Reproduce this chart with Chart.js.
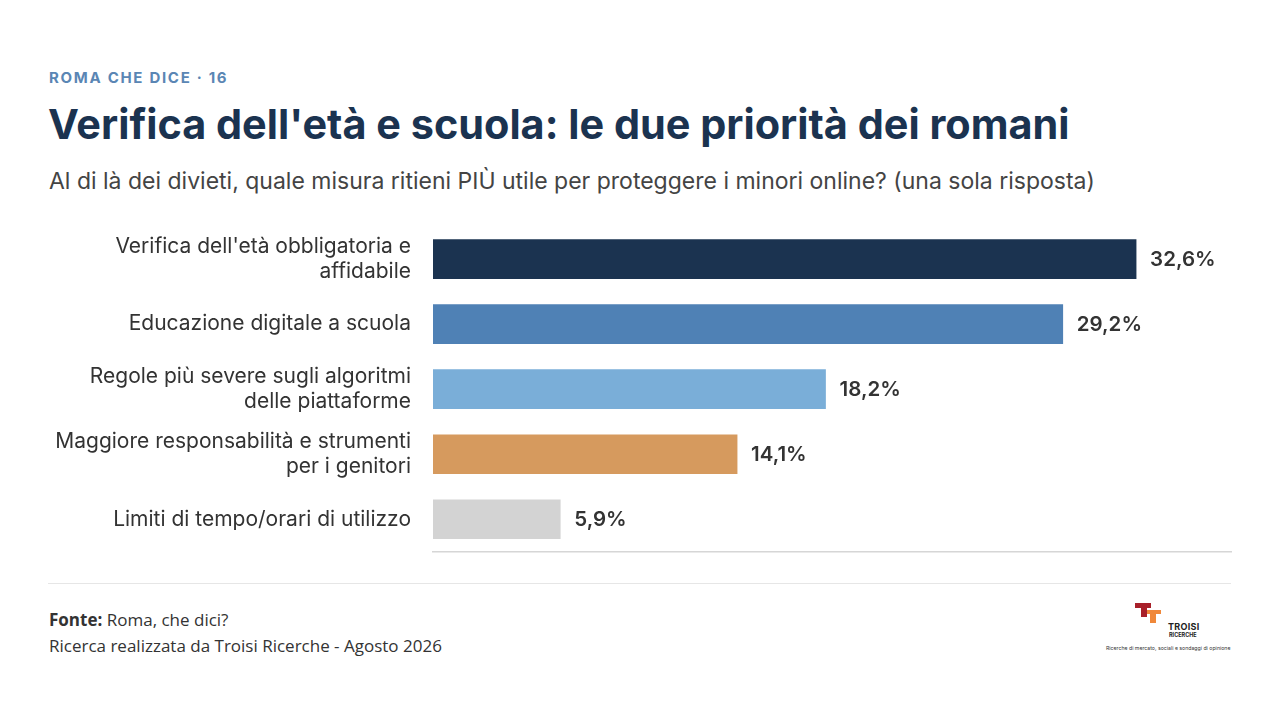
<!DOCTYPE html>
<html lang="it">
<head>
<meta charset="utf-8">
<title>Verifica dell'età e scuola</title>
<script src="https://cdn.jsdelivr.net/npm/chart.js@4.4.1/dist/chart.umd.min.js"></script>
<style>
    html, body { margin: 0; padding: 0; background: #fff; }
    body { width: 1280px; height: 720px; position: relative; overflow: hidden; font-family: Inter, sans-serif; }
    .kicker { position: absolute; left: 49px; top: 68px; font-size: 15px; font-weight: 700; letter-spacing: 1.7px; color: #5a86b4; }
    .title { position: absolute; left: 48px; top: 99px; font-size: 41.4px; font-weight: 700; color: #1b3350; }
    .subtitle { position: absolute; left: 49px; top: 167px; font-size: 23px; color: #444; }
    .chart-wrap { position: absolute; left: 0; top: 192px; width: 1280px; height: 407px; }
    .divider { position: absolute; left: 48px; top: 583px; width: 1183px; height: 1px; background: #e6e6e6; }
    .source { position: absolute; left: 49px; top: 607px; font-family: "Open Sans", sans-serif; font-size: 17px; color: #333; line-height: 26px; }
    .source b { font-weight: 700; }
    .logo { position: absolute; left: 1100px; top: 600px; width: 140px; height: 56px; }
    .logo div { position: absolute; }
    .red { background: #a8202a; }
    .orange { background: #f0883a; }
    .brand { left: 68px; top: 21px; font-size: 9px; font-weight: 700; color: #222; letter-spacing: 0.3px; }
    .brand2 { left: 69px; top: 32px; font-size: 5.5px; font-weight: 700; color: #222; }
    .tag { left: 6px; top: 45px; font-size: 5.2px; color: #333; white-space: nowrap; }
</style>
</head>
<body>
<div class="kicker">ROMA CHE DICE · 16</div>
<div class="title">Verifica dell'età e scuola: le due priorità dei romani</div>
<div class="subtitle">Al di là dei divieti, quale misura ritieni PIÙ utile per proteggere i minori online? (una sola risposta)</div>
<div class="chart-wrap"><canvas id="priorityChart"></canvas></div>
<div class="divider"></div>
<div class="source"><b>Fonte:</b> Roma, che dici?<br>Ricerca realizzata da Troisi Ricerche - Agosto 2026</div>
<div class="logo">
    <div class="red" style="left:35px;top:3px;width:16px;height:5px;"></div>
    <div class="red" style="left:41px;top:3px;width:6px;height:14px;"></div>
    <div class="orange" style="left:47px;top:10px;width:14px;height:4px;"></div>
    <div class="orange" style="left:50px;top:10px;width:6px;height:13px;"></div>
    <div class="brand">TROISI</div>
    <div class="brand2">RICERCHE</div>
    <div class="tag">Ricerche di mercato, sociali e sondaggi di opinione</div>
</div>
<script>
var categories = [
    ["Verifica dell'età obbligatoria e", "affidabile"],
    "Educazione digitale a scuola",
    ["Regole più severe sugli algoritmi", "delle piattaforme"],
    ["Maggiore responsabilità e strumenti", "per i genitori"],
    "Limiti di tempo/orari di utilizzo"
];
var shares = [32.6, 29.2, 18.2, 14.1, 5.9];
var barColors = ['#1b3350', '#4f81b5', '#7aaed8', '#d69a5e', '#d3d3d3'];

// percent labels at the end of each bar
var valueLabels = {
    id: 'valueLabels',
    afterDatasetsDraw: function(chart) {
        var ctx = chart.ctx;
        var meta = chart.getDatasetMeta(0);
        ctx.save();
        ctx.font = '600 20.5px Inter';
        ctx.fillStyle = '#333';
        ctx.textBaseline = 'middle';
        meta.data.forEach(function(bar, i) {
            var txt = shares[i].toFixed(1).replace('.', ',') + '%';
            ctx.fillText(txt, bar.x + 14, bar.y + 1);
        });
        ctx.restore();
    }
};

document.addEventListener('DOMContentLoaded', function() {
    var ctx = document.getElementById('priorityChart').getContext('2d');
    new Chart(ctx, {
        type: 'bar',
        data: {
            labels: categories,
            datasets: [{
                data: shares,
                backgroundColor: barColors,
                barThickness: 39,
                borderWidth: 0
            }]
        },
        options: {
            indexAxis: 'y',
            responsive: true,
            maintainAspectRatio: false,
            animation: false,
            layout: { padding: { top: 10, right: 49, bottom: 0, left: 0 } },
            plugins: {
                legend: { display: false },
                tooltip: { enabled: false }
            },
            scales: {
                x: {
                    min: 0,
                    max: 37,
                    ticks: { display: false },
                    grid: { display: false, drawTicks: false },
                    border: { display: true, color: '#d6d6d6', width: 1.5 }
                },
                y: {
                    afterFit: function(scale) { scale.width = 433; },
                    ticks: {
                        color: '#333',
                        padding: 22,
                        font: { family: 'Inter', size: 21, lineHeight: 1.2 },
                        autoSkip: false
                    },
                    grid: { display: false, drawTicks: false },
                    border: { display: false }
                }
            }
        },
        plugins: [valueLabels]
    });
});
</script>
</body>
</html>
